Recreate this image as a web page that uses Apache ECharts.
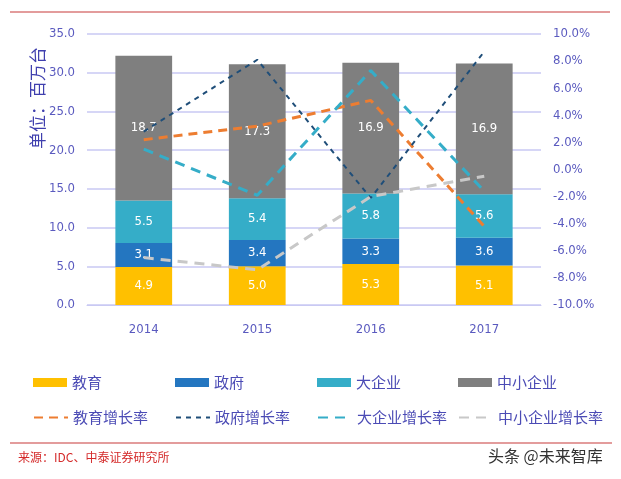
<!DOCTYPE html>
<html lang="zh">
<head>
    <meta charset="UTF-8">
    <title>分行业出货量</title>
    <script src="https://cdn.jsdelivr.net/npm/echarts@6/dist/echarts.min.js"></script>
    <style>
        body { margin: 0; background: #fff; }
    </style>
</head>
<body>
<div style="width: 621px; height: 479px" id="chart"></div>

<script type="text/javascript">
    var years = ['2014', '2015', '2016', '2017'];

    // 出货量（百万台）
    var eduVals = [4.9, 5.0, 5.3, 5.1];
    var govVals = [3.1, 3.4, 3.3, 3.6];
    var bigVals = [5.5, 5.4, 5.8, 5.6];
    var smbVals = [18.7, 17.3, 16.9, 16.9];

    // 增长率（%）
    var eduGrowth = [2.2, 3.2, 5.1, -4.2];
    var govGrowth = [2.8, 8.1, -2.1, 8.7];
    var bigGrowth = [1.5, -1.9, 7.3, -1.6];
    var smbGrowth = [-6.5, -7.4, -2.0, -0.5];

    var axisColor = '#5a5abf';
    var gridColor = '#c9c9f3';
    var numFont = '"DejaVu Sans Condensed", "Liberation Sans Narrow", sans-serif';

    function barSeries(name, data, color) {
        return {
            name: name,
            type: 'bar',
            stack: 'total',
            barWidth: '50%',
            data: data,
            itemStyle: { color: color },
            label: {
                show: true,
                position: 'inside',
                color: '#fff',
                fontSize: 13,
                fontFamily: numFont,
                formatter: function (p) { return p.value.toFixed(1); }
            }
        };
    }

    function lineSeries(name, data, color, width, dash) {
        return {
            name: name,
            type: 'line',
            yAxisIndex: 1,
            data: data,
            symbol: 'none',
            lineStyle: { color: color, width: width, type: dash },
            itemStyle: { color: color },
            z: 5
        };
    }

    function oneLegend(name, left, top, isBar) {
        var lg = {
            data: [name],
            left: left,
            top: top,
            itemGap: 10,
            itemWidth: 34,
            textStyle: { color: '#4b4bb5', fontSize: 15, fontFamily: '"Noto Sans CJK SC"' }
        };
        if (isBar) {
            lg.icon = 'rect';
            lg.itemHeight = 9;
        } else {
            // 只保留虚线，隐藏图例中的圆点
            lg.itemHeight = 10;
            lg.itemStyle = { opacity: 0 };
        }
        return lg;
    }

    var myChart = echarts.init(document.getElementById('chart'));

    var option = {
        animation: false,
        grid: { left: 87, right: 80, top: 34, bottom: 174 },
        legend: [
            oneLegend('教育', 28, 370, true),
            oneLegend('政府', 170, 370, true),
            oneLegend('大企业', 312, 370, true),
            oneLegend('中小企业', 453, 370, true),
            oneLegend('教育增长率', 28, 405, false),
            oneLegend('政府增长率', 170, 405, false),
            oneLegend('大企业增长率', 312, 405, false),
            oneLegend('中小企业增长率', 453, 405, false)
        ],
        xAxis: {
            type: 'category',
            data: years,
            axisLine: { lineStyle: { color: gridColor } },
            axisTick: { show: false },
            axisLabel: { color: axisColor, fontSize: 13, fontFamily: numFont, margin: 18 }
        },
        yAxis: [
            {
                type: 'value',
                min: 0,
                max: 35,
                interval: 5,
                axisLine: { show: false },
                axisTick: { show: false },
                splitLine: { lineStyle: { color: gridColor, width: 1.5 } },
                axisLabel: {
                    color: axisColor, fontSize: 13, fontFamily: numFont, margin: 12,
                    formatter: function (v) { return v.toFixed(1); }
                }
            },
            {
                type: 'value',
                min: -10,
                max: 10,
                interval: 2,
                axisLine: { show: false },
                axisTick: { show: false },
                splitLine: { show: false },
                axisLabel: {
                    color: axisColor, fontSize: 13, fontFamily: numFont, margin: 12,
                    formatter: function (v) { return v.toFixed(1) + '%'; }
                }
            }
        ],
        series: [
            barSeries('教育', eduVals, '#ffc000'),
            barSeries('政府', govVals, '#2476c0'),
            barSeries('大企业', bigVals, '#35adc8'),
            barSeries('中小企业', smbVals, '#7f7f7f'),
            lineSeries('教育增长率', eduGrowth, '#ed7d31', 3, [9, 6]),
            lineSeries('政府增长率', govGrowth, '#1f4e79', 2, [5, 5]),
            lineSeries('大企业增长率', bigGrowth, '#35adc8', 3, [10, 7]),
            lineSeries('中小企业增长率', smbGrowth, '#c8c8c8', 3, [10, 7])
        ],
        graphic: [
            {
                type: 'line',
                shape: { x1: 10, y1: 12, x2: 610, y2: 12 },
                style: { stroke: '#da7b7b', lineWidth: 1.5 }
            },
            {
                type: 'line',
                shape: { x1: 10, y1: 443, x2: 612, y2: 443 },
                style: { stroke: '#da7b7b', lineWidth: 1.5 }
            },
            {
                type: 'text',
                x: 38,
                y: 98,
                rotation: Math.PI / 2,
                style: {
                    text: '单位：百万台',
                    fill: '#3f3fae',
                    font: '17px "Noto Sans CJK SC"',
                    align: 'center',
                    verticalAlign: 'middle'
                }
            },
            {
                type: 'text',
                x: 18,
                y: 451,
                style: {
                    text: '来源：IDC、中泰证券研究所',
                    fill: '#d42a2a',
                    font: '12px "Noto Sans CJK SC"'
                }
            },
            {
                type: 'text',
                x: 488,
                y: 448,
                style: {
                    text: '头条 @未来智库',
                    fill: '#333',
                    font: '16px "Noto Sans CJK SC"'
                }
            }
        ]
    };

    myChart.setOption(option);
</script>
</body>
</html>
